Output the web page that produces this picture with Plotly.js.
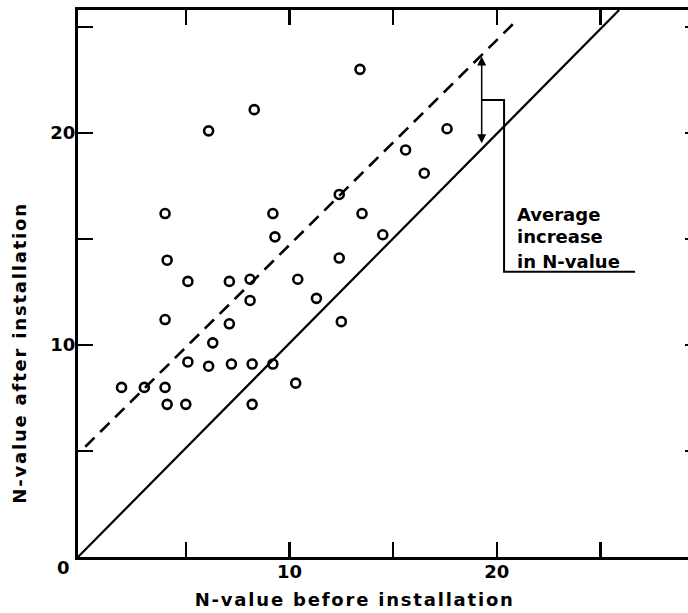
<!DOCTYPE html>
<html>
<head>
<meta charset="utf-8">
<script src="https://cdn.plot.ly/plotly-3.0.1.min.js"></script>
<style>
  html, body { margin: 0; padding: 0; background: #fff; overflow: hidden; }
  #chart { width: 712px; height: 613px; }
  g.annotation[data-index="5"] text, g.annotation[data-index="6"] text { letter-spacing: 1.8px; }
</style>
</head>
<body>
<div id="chart"></div>
<script>
// Observed N-values (before, after)
const nBefore = [8.3, 6.1, 4.0, 9.2, 9.3, 13.4, 17.6, 15.6, 16.5, 12.4, 13.5, 14.5,
                 4.1, 5.1, 7.1, 8.1, 8.1, 4.0, 7.1, 6.3, 5.1, 6.1, 7.2, 8.2, 9.2,
                 1.9, 3.0, 4.0, 4.1, 5.0, 8.2, 12.4, 10.4, 11.3, 12.5, 10.3];
const nAfter  = [21.1, 20.1, 16.2, 16.2, 15.1, 23.0, 20.2, 19.2, 18.1, 17.1, 16.2, 15.2,
                 14.0, 13.0, 13.0, 13.1, 12.1, 11.2, 11.0, 10.1, 9.2, 9.0, 9.1, 9.1, 9.1,
                 8.0, 8.0, 8.0, 7.2, 7.2, 7.2, 14.1, 13.1, 12.2, 11.1, 8.2];

// Reference lines
const equalLineX = [-0.2, 25.9];   // N after = N before
const equalLineY = [0, 25.8];
const avgLineX = [0.15, 21.0];     // average increase line
const avgLineY = [5.2, 25.35];

// Annotation geometry (data units)
const arrowX = 19.27, arrowTop = 23.68, arrowBottom = 19.51;
const bracketX = [19.27, 20.35, 20.35, 26.67];
const bracketY = [21.56, 21.56, 13.46, 13.46];
const labelLines = ["Average", "increase", "in N-value"];
const labelX = 20.9;
const labelY = [16.16, 15.12, 13.96];

// Ticks and titles
const tickVals = [5, 10, 15, 20, 25];
const tickText = ["", "10", "", "20", ""];
const xTitle = "N-value before installation";
const yTitle = "N-value after installation";

const font = {family: "DejaVu Sans", color: "#000", size: 18, weight: "bold"};

const traces = [
  {x: equalLineX, y: equalLineY, mode: "lines", type: "scatter",
   line: {color: "#000", width: 2.2}, hoverinfo: "skip", showlegend: false},
  {x: avgLineX, y: avgLineY, mode: "lines", type: "scatter",
   line: {color: "#000", width: 2.6, dash: "13px,8px"}, hoverinfo: "skip", showlegend: false},
  {x: bracketX, y: bracketY, mode: "lines", type: "scatter",
   line: {color: "#000", width: 2}, hoverinfo: "skip", showlegend: false},
  {x: nBefore, y: nAfter, mode: "markers", type: "scatter", showlegend: false,
   marker: {symbol: "circle-open", size: 9, color: "#000", line: {width: 2.6, color: "#000"}}}
];

const annotations = labelLines.map((t, i) => ({
  x: labelX, y: labelY[i], xref: "x", yref: "y", text: t, showarrow: false,
  xanchor: "left", yanchor: "middle", font: font
}));
annotations.push({
  x: arrowX, y: arrowBottom, ax: arrowX, ay: arrowTop, axref: "x", ayref: "y",
  xref: "x", yref: "y", text: "", showarrow: true, arrowside: "end+start",
  arrowhead: 2, arrowsize: 1.2, arrowwidth: 1.5, arrowcolor: "#000"
});
annotations.push({
  x: -0.2, y: 0, xref: "x", yref: "y", text: "0", showarrow: false,
  xanchor: "right", yanchor: "middle", xshift: -6, yshift: -10, font: font
});
// axis titles (index 5 and 6)
annotations.push({
  x: 0.4445, y: -0.078, xref: "paper", yref: "paper", text: xTitle, showarrow: false,
  xanchor: "center", yanchor: "middle", font: font
});
annotations.push({
  x: -0.0935, y: 0.374, xref: "paper", yref: "paper", text: yTitle, showarrow: false,
  xanchor: "center", yanchor: "middle", textangle: -90, font: font
});

const axisCommon = {
  showline: true, linewidth: 3, linecolor: "#000", mirror: "ticks",
  ticks: "inside", ticklen: 15, tickwidth: 2.5, tickcolor: "#000",
  showgrid: false, zeroline: false, tickmode: "array",
  tickvals: tickVals, ticktext: tickText, tickfont: font, fixedrange: true,
  ticklabelstandoff: -4
};

const layout = {
  width: 712, height: 613,
  margin: {l: 78, r: 12, t: 10, b: 56},
  paper_bgcolor: "#fff", plot_bgcolor: "#fff",
  xaxis: Object.assign({}, axisCommon, {range: [-0.2, 29.8]}),
  yaxis: Object.assign({}, axisCommon, {range: [0, 25.8]}),
  annotations: annotations,
  showlegend: false
};

Plotly.newPlot("chart", traces, layout, {displayModeBar: false, staticPlot: true});
</script>
</body>
</html>
